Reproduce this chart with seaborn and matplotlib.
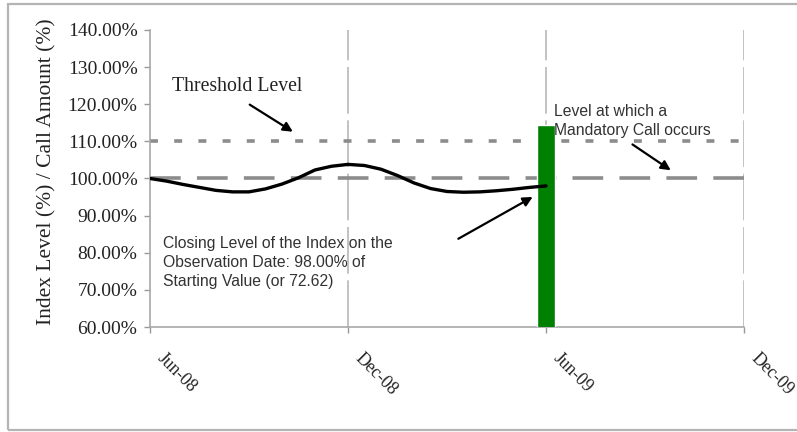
import matplotlib
matplotlib.use("Agg")
import matplotlib.pyplot as plt
from matplotlib.patches import Rectangle
from matplotlib.transforms import ScaledTranslation
import seaborn as sns
import pandas as pd

# Index level path, half-monthly from Jun-08 (month 0) to Jun-09 (month 12), in % of starting value
months = [0, 0.5, 1, 1.5, 2, 2.5, 3, 3.5, 4, 4.5, 5, 5.5, 6,
          6.5, 7, 7.5, 8, 8.5, 9, 9.5, 10, 10.5, 11, 11.5, 12]
index_level = [100.0, 99.3, 98.4, 97.6, 96.8, 96.4, 96.4, 97.2, 98.5, 100.2, 102.3, 103.3, 103.8,
               103.5, 102.5, 100.8, 98.8, 97.3, 96.5, 96.3, 96.4, 96.7, 97.1, 97.6, 98.0]

# Call amount paid at the observation date
call_month = [12]
call_amount = [114.5]

threshold_level = 110.0
mandatory_call_level = 100.0

tick_months = [0, 6, 12, 18]
tick_labels = ["Jun-08", "Dec-08", "Jun-09", "Dec-09"]
y_ticks = [60, 70, 80, 90, 100, 110, 120, 130, 140]

sns.set_theme(style="white")
plt.rcParams["font.family"] = ["Liberation Serif", "DejaVu Serif"]

fig = plt.figure(figsize=(7.97, 4.32), dpi=100)
ax = fig.add_axes([150 / 797, (432 - 327) / 432, (744 - 150) / 797, (327 - 30) / 432])

# outer frame of the figure
fig.patches.append(Rectangle((8 / 797, 2 / 432), 1.2, (428 - 2) / 432,
                             transform=fig.transFigure, fill=False,
                             edgecolor="#b4b4b4", lw=1.6, zorder=0))

ax.set_xlim(0, 18)
ax.set_ylim(60, 140)

# vertical gridlines
for m in tick_months[1:]:
    ax.axvline(m, color="#b8b8b8", lw=1.2, ls=(0, (28, 4)), zorder=1)

# reference levels
ax.axhline(threshold_level, color="#8c8c8c", lw=2.6, ls=(0, (2.2, 4.5)), zorder=2)
ax.axhline(mandatory_call_level, color="#8c8c8c", lw=2.6, ls=(0, (8.5, 4.5)), zorder=2)

# call amount bar
ax.bar(call_month, call_amount, width=0.52, color="#008000", zorder=3)

# index level path
df = pd.DataFrame({"month": months, "level": index_level})
sns.lineplot(data=df, x="month", y="level", ax=ax, color="black", lw=2.4, zorder=4)

# x tick marks, with diagonal date labels placed below them
ax.set_xticks(tick_months)
ax.set_xticklabels([])
ax.tick_params(axis="x", which="major", length=4, width=1, color="#999999", bottom=True)
label_offset = ScaledTranslation(10 / 100, -29 / 100, fig.dpi_scale_trans)
for m, lab in zip(tick_months, tick_labels):
    ax.text(m, 0, lab, transform=ax.get_xaxis_transform() + label_offset,
            rotation=-45, rotation_mode="anchor", ha="left", va="center",
            fontsize=12.8, color="#222222", clip_on=False)

ax.set_yticks(y_ticks)
ax.set_yticklabels([f"{v:.2f}%" for v in y_ticks], fontsize=14, color="#222222")
ax.tick_params(axis="y", which="major", length=4, width=1, color="#999999",
               left=True, pad=5)
ax.set_xlabel("")
ax.set_ylabel("Index Level (%) / Call Amount (%)", fontsize=15.5, color="#222222")
ax.yaxis.set_label_coords((56 - 150) / 594, (327 - 172) / 297)

for side in ["top", "right"]:
    ax.spines[side].set_visible(False)
for side in ["left", "bottom"]:
    ax.spines[side].set_color("#a8a8a8")
    ax.spines[side].set_linewidth(1.2)

# annotations
ax.text(0.67, 123.6, "Threshold Level", fontsize=14.2, color="#222222")
ax.annotate("", xy=(4.4, 112.2), xytext=(2.95, 120.3),
            arrowprops=dict(arrowstyle="-|>", color="black", lw=1.6, mutation_scale=14))

ax.text(12.25, 120.2, "Level at which a\nMandatory Call occurs", fontsize=11.3,
        family=["Liberation Sans", "DejaVu Sans"], color="#333333",
        va="top", linespacing=1.35)
ax.annotate("", xy=(15.85, 101.8), xytext=(14.55, 109.6),
            arrowprops=dict(arrowstyle="-|>", color="black", lw=1.6, mutation_scale=14))

ax.text(0.4, 84.6, "Closing Level of the Index on the\nObservation Date: 98.00% of\nStarting Value (or 72.62)",
        fontsize=11.3, family=["Liberation Sans", "DejaVu Sans"], color="#333333",
        va="top", linespacing=1.35)
ax.annotate("", xy=(11.67, 95.4), xytext=(9.27, 83.4),
            arrowprops=dict(arrowstyle="-|>", color="black", lw=1.6, mutation_scale=14))

fig.savefig("out.png", dpi=100)
